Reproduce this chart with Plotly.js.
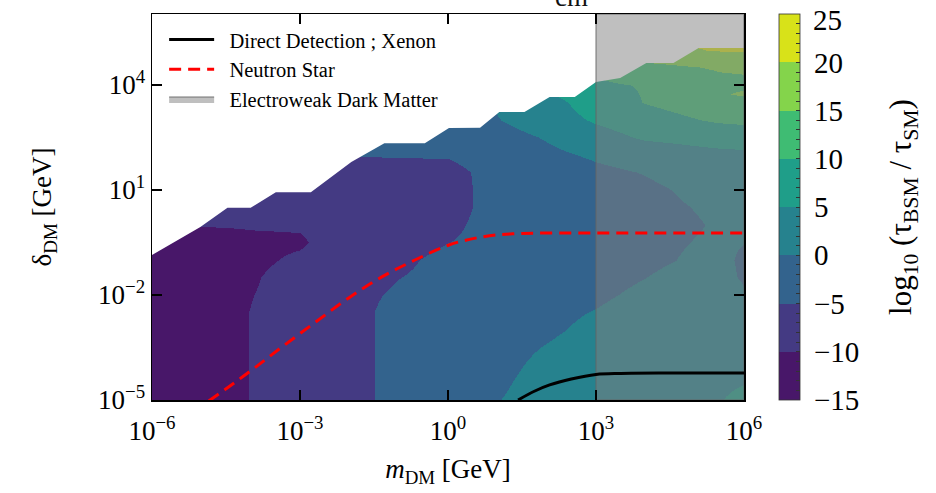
<!DOCTYPE html>
<html><head><meta charset="utf-8">
<script src="https://cdn.plot.ly/plotly-3.0.1.min.js"></script>
<style>html,body{margin:0;padding:0;background:#fff;}#chart{width:936px;height:493px;}</style>
</head><body><div id="chart"></div>
<script>
// ---- data (all positions are log10 values) ----
// grid: log10(m_DM / GeV)
const logMass = [-6, -5, -4, -3, -2, -1, 0, 1, 2, 3, 4, 5, 5.5, 6];
// grid: log10(delta_DM / GeV)
const logDelta = [-5, -4.5, -4, -3.5, -3, -2.5, -2, -1.5, -1, -0.5, 0, 0.5, 1, 1.5, 2, 2.5, 3, 3.5, 3.75, 4, 4.5, 5, 5.5, 6];
// log10(tau_BSM / tau_SM), one row per logDelta value
const logTauRatio = [
  [-14, -12, -9.9, -8, -6, -4, -2, -0.1, 1.5, 2.5, 3.3, 4.2, 4.9, 5.7],
  [-14, -12, -9.9, -8, -6, -4, -2.2, -0.6, 1.4, 2.4, 3.2, 4.0, 4.5, 4.9],
  [-14, -12, -9.9, -8, -6, -4, -2.4, -1.0, 0.9, 2.2, 3.0, 3.7, 4.0, 4.3],
  [-14, -12, -9.9, -8, -6, -4, -2.5, -1.3, 0.2, 1.8, 2.8, 3.4, 3.7, 3.9],
  [-14, -12, -9.9, -8, -6, -4, -2.7, -1.6, -0.6, 1.0, 2.4, 3.0, 3.3, 3.5],
  [-14, -12, -9.9, -8, -6, -4, -2.9, -1.9, -1.0, 0.2, 1.9, 2.6, 2.8, 3.0],
  [-14, -12, -10.1, -8.2, -6, -4.5, -3.2, -2.3, -1.4, -0.7, 0.9, 2.2, 2.4, 0.2],
  [-14, -12.5, -10.5, -8, -6.5, -5.05, -4.0, -3.2, -2.4, -1.4, -0.05, 1.5, 0.8, -0.3],
  [-14, -13, -11, -9.2, -7.2, -5.7, -4.0, -3.3, -2.6, -1.8, -0.8, 0.5, 0.6, -0.4],
  [-13, -13, -11, -10.6, -7, -6.5, -5.05, -3.8, -2.8, -2.0, -0.9, 0.1, 0.4, 0.05],
  [-10.5, -9.7, -9.6, -9.5, -8, -7, -5.8, -3.5, -2.6, -2.0, -1.0, -0.2, 0.3, 0.5],
  [-10, -9.5, -9, -8.5, -8, -7.5, -6.5, -3.5, -2.6, -1.9, -1.0, 0.1, 0.5, 1.0],
  [-9.5, -9, -8.5, -8, -7.5, -7, -6.5, -3.5, -2.4, -1.6, -0.8, 0.7, 1.2, 1.5],
  [-9, -8.5, -8, -7.5, -7, -6.5, -6.0, -3.8, -2.2, -0.9, 0.2, 1.8, 2.4, 3.0],
  [-8, -7.5, -7, -6.5, -4.9, -4.7, -4.75, -3.2, -1.0, 0.6, 2.0, 3.4, 3.8, 4.0],
  [-7, -6.5, -6, -5.5, -4.5, -4.0, -3.5, -1.8, 0.4, 3.0, 5.7, 6.5, 7.0, 7.3],
  [-6.5, -6, -5.5, -5, -4, -3.5, -2.5, -0.2, 2.5, 5.6, 8.0, 9.8, 10.6, 11.0],
  [-6, -5.5, -5, -4.5, -3.5, -3, -2, 0.5, 3.2, 7.5, 10.2, 12, 12.8, 13.2],
  [-5.75, -5.25, -4.75, -4.25, -3.25, -2.5, -1.5, 1.25, 4.6, 8.4, 10.25, 12.75, 14.5, 15.6],
  [-5.5, -5, -4.5, -4, -3, -2, -1, 2, 6, 9.3, 10.3, 13.5, 14.2, 14.3],
  [-5, -4.5, -4, -3.5, -2.5, -1, 0, 3, 7, 11, 13.5, 14.95, 15.3, 15.5],
  [-4.5, -4, -3.5, -3, -2, 0, 1, 4, 8, 13, 19, 19.8, 20.3, 20.6],
  [-4, -3.5, -3, -2.5, -1.5, 1, 2, 5, 9, 14, 20, 21, 21.5, 22],
  [-3.5, -3, -2.5, -2, -1, 2, 3, 6, 10, 15, 21, 22, 22.5, 23]
];
// upper edge of the computed region (nothing drawn above it)
const edgeLogMass  = [-6, -5.02, -4.47, -4.0, -3.49, -2.78, -1.96, -1.29, -0.47, 0.02, 0.65, 1.04, 1.55, 2.06, 2.57, 3.0, 3.49, 4.02, 4.57, 5.08, 6];
const edgeLogDelta = [-0.86, -0.06, 0.49, 0.49, 0.94, 0.94, 1.8, 2.34, 2.34, 2.77, 2.78, 3.23, 3.23, 3.66, 3.66, 4.09, 4.2, 4.63, 4.63, 5.06, 5.06];
// Direct Detection ; Xenon
const ddLogMass  = [1.42, 1.75, 2.06, 2.5, 3.0, 3.5, 4.5, 6];
const ddLogDelta = [-5.0, -4.75, -4.57, -4.4, -4.27, -4.24, -4.23, -4.23];
// Neutron Star
const nsLogMass  = [-4.85, -4.06, -3.39, -2.71, -2.02, -1.35, -0.67, 0.02, 0.69, 1.31, 2.0, 3, 4, 5, 6];
const nsLogDelta = [-5.03, -4.23, -3.51, -2.80, -2.09, -1.49, -1.0, -0.57, -0.34, -0.25, -0.23, -0.23, -0.23, -0.23, -0.23];
// Electroweak Dark Matter: m_DM above 10^3 GeV
const ewLogMassMin = 3;

// contour levels and tick labels
const levelStart = -15, levelEnd = 25, levelSize = 5;
const bandColors = ['#481769', '#443a83', '#33638d', '#26828e', '#1f9e89', '#3fbc73', '#84d44b', '#d8e219'];
const xTickVals = [-6, -3, 0, 3, 6];
const xTickText = ['10<sup>−6</sup>', '10<sup>−3</sup>', '10<sup>0</sup>', '10<sup>3</sup>', '10<sup>6</sup>'];
const yTickVals = [-5, -2, 1, 4];
const yTickText = ['10<sup>−5</sup>', '10<sup>−2</sup>', '10<sup>1</sup>', '10<sup>4</sup>'];
const cbTickVals = [-15, -10, -5, 0, 5, 10, 15, 20, 25];
const cbTickText = ['−15', '−10', '−5', '0', '5', '10', '15', '20', '25'];

const xRange = [-6, 6];
const yRange = [-5, 6.03];

// step colorscale over [levelStart, levelEnd]: one constant colour per band
const nBands = bandColors.length;
const colorscale = [];
for (let k = 0; k < nBands; k++) {
  colorscale.push([k / nBands, bandColors[k]]);
  colorscale.push([(k + 1) / nBands, bandColors[k]]);
}
// colorbar ticks (labelled every level, small ticks in between);
// the label at the very top is written as an annotation so it stays inside the page
const NB = '\u00a0';
const cbAllVals = [], cbAllText = [];
for (let t = levelStart; t <= levelEnd; t++) {
  cbAllVals.push(t);
  const i = cbTickVals.indexOf(t);
  cbAllText.push(i >= 0 && t < levelEnd ? NB + cbTickText[i] + NB + NB + NB + NB + NB : '');
}

const serif = 'Liberation Serif, Times New Roman, serif';

const traces = [
  {
    type: 'contour', x: logMass, y: logDelta, z: logTauRatio,
    autocontour: false,
    contours: {start: levelStart, end: levelEnd, size: levelSize, coloring: 'heatmap', showlines: false},
    zauto: false, zmin: levelStart, zmax: levelEnd + 0.02,
    line: {width: 0},
    colorscale: colorscale, showlegend: false, hoverinfo: 'skip',
    colorbar: {
      x: 1.0591, xanchor: 'left', xpad: 0, y: 0.5, yanchor: 'middle', ypad: 0,
      len: 1, lenmode: 'fraction', thickness: 21, thicknessmode: 'pixels',
      outlinewidth: 0.8, outlinecolor: '#333',
      tickmode: 'array', tickvals: cbAllVals, ticktext: cbAllText,
      ticks: 'inside', ticklen: 4, tickwidth: 1, tickcolor: '#333',
      tickfont: {family: serif, size: 29, color: '#000'},
      title: {text: 'log<sub>10</sub>' + NB + '(τ<sub>BSM</sub>' + NB + '/' + NB + 'τ<sub>SM</sub>)', side: 'right',
              font: {family: serif, size: 31, color: '#000'}}
    }
  },
  {
    type: 'scatter', mode: 'lines',
    x: edgeLogMass.concat([xRange[1], xRange[0], xRange[0]]),
    y: edgeLogDelta.concat([yRange[1], yRange[1], edgeLogDelta[0]]),
    fill: 'toself', fillcolor: '#ffffff', line: {width: 0}, showlegend: false, hoverinfo: 'skip'
  },
  {
    type: 'scatter', mode: 'lines', name: NB + NB + 'Electroweak Dark Matter', legendrank: 3,
    x: [ewLogMassMin, xRange[1], xRange[1], ewLogMassMin, ewLogMassMin],
    y: [yRange[0], yRange[0], yRange[1], yRange[1], yRange[0]],
    fill: 'toself', fillcolor: 'rgba(128,128,128,0.5)',
    line: {width: 1.5, color: 'rgba(100,100,100,0.6)'}, hoverinfo: 'skip'
  },
  {
    type: 'scatter', mode: 'lines', name: NB + NB + 'Direct Detection ; Xenon', legendrank: 1,
    x: ddLogMass, y: ddLogDelta, line: {color: '#000', width: 3, shape: 'spline'}
  },
  {
    type: 'scatter', mode: 'lines', name: NB + NB + 'Neutron Star', legendrank: 2,
    x: nsLogMass, y: nsLogDelta, line: {color: '#ff0000', width: 3, dash: '12px,7px', shape: 'spline'}
  }
];

const axisCommon = {
  showgrid: false, zeroline: false, showline: true, linecolor: '#000', linewidth: 1.5,
  mirror: 'ticks', ticks: 'inside', ticklen: 10, tickwidth: 1.5, tickcolor: '#000',
  tickmode: 'array', tickfont: {family: serif, size: 27, color: '#000'}
};

const layout = {
  width: 936, height: 493,
  margin: {l: 152, r: 192, t: 14, b: 93, pad: 0},
  paper_bgcolor: '#fff', plot_bgcolor: '#fff',
  font: {family: serif, color: '#000'},
  xaxis: Object.assign({}, axisCommon, {
    range: xRange, tickvals: xTickVals, ticktext: xTickText, ticklabelstandoff: 6,
    title: {text: '<i>m</i><sub>DM</sub> [GeV]', font: {family: serif, size: 27}, standoff: 14}
  }),
  yaxis: Object.assign({}, axisCommon, {
    range: yRange, tickvals: yTickVals, ticktext: yTickText,
    title: {text: 'δ<sub>DM</sub> [GeV]', font: {family: serif, size: 27}, standoff: 38}
  }),
  legend: {
    x: 0.0205, y: 0.985, xanchor: 'left', yanchor: 'top',
    bgcolor: 'rgba(0,0,0,0)', borderwidth: 0,
    font: {family: serif, size: 20.5, color: '#000'},
    itemwidth: 45, tracegroupgap: 0
  },
  annotations: [
    {
      text: 'cm', xref: 'paper', yref: 'paper', x: 0.709, y: 1.0, xanchor: 'center', yanchor: 'bottom',
      showarrow: false, font: {family: serif, size: 27, color: '#111'}
    },
    {
      text: cbTickText[cbTickText.length - 1], xref: 'paper', yref: 'paper',
      x: 1.1135, y: 1.0, xanchor: 'left', yanchor: 'middle', yshift: -6,
      showarrow: false, font: {family: serif, size: 29, color: '#000'}
    }
  ]
};

Plotly.newPlot('chart', traces, layout, {displayModeBar: false, staticPlot: true});
</script>
</body></html>
